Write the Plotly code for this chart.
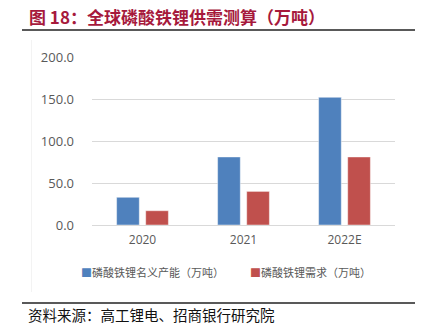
import plotly.graph_objects as go

categories = ["2020", "2021", "2022E"]
capacity = [33, 81, 152]
demand = [17, 40, 81]
series_names = ["磷酸铁锂名义产能（万吨）", "磷酸铁锂需求（万吨）"]
y_ticks = [0, 50, 100, 150, 200]
y_tick_labels = ["0.0", "50.0", "100.0", "150.0", "200.0"]
title_text = "图 18：全球磷酸铁锂供需测算（万吨）"
source_text = "资料来源：高工锂电、招商银行研究院"

BLUE = "#4F81BD"
RED = "#C0504D"

W, H = 423, 334
ML, MR, MT, MB = 92, 28, 57, 109
PW, PH = W - ML - MR, H - MT - MB

def px(x):
    return (x - ML) / PW

def py(y):
    return (H - MB - y) / PH

fig = go.Figure()
fig.add_trace(go.Bar(x=categories, y=capacity, name=series_names[0],
                     marker=dict(color=BLUE, line=dict(color="rgba(255,255,255,0.45)", width=1))))
fig.add_trace(go.Bar(x=categories, y=demand, name=series_names[1],
                     marker=dict(color=RED, line=dict(color="rgba(255,255,255,0.45)", width=1))))

fig.update_layout(
    width=W, height=H,
    margin=dict(l=ML, r=MR, t=MT, b=MB, pad=0),
    paper_bgcolor="white", plot_bgcolor="white",
    barmode="group", bargap=0.424, bargroupgap=0.22,
    showlegend=False,
    font=dict(family="Open Sans, sans-serif", color="#595959"),
    xaxis=dict(showgrid=False, showline=False, ticks="", tickfont=dict(size=12, color="#595959"),
               ticklabelstandoff=6),
    yaxis=dict(range=[0, 200], tickvals=y_ticks, ticktext=y_tick_labels,
               showgrid=True, gridcolor="#D9D9D9", gridwidth=1,
               zeroline=True, zerolinecolor="#D9D9D9", zerolinewidth=1,
               showline=False, ticks="", tickfont=dict(size=13, color="#595959"),
               ticklabelstandoff=17),
)

# header line, footer line, faint chart border
fig.add_shape(type="line", xref="paper", yref="paper", x0=px(22), x1=px(415), y0=py(30), y1=py(30),
              line=dict(color="#222222", width=1.5))
fig.add_shape(type="line", xref="paper", yref="paper", x0=px(22), x1=px(415), y0=py(303), y1=py(303),
              line=dict(color="#222222", width=1.5))
fig.add_shape(type="line", xref="paper", yref="paper", x0=px(31.5), x1=px(31.5), y0=py(40), y1=py(292),
              line=dict(color="#F3F3F3", width=1))

fig.add_annotation(text="<b>" + title_text + "</b>", xref="paper", yref="paper",
                   x=px(27), y=py(16), xanchor="left", yanchor="middle", showarrow=False,
                   font=dict(family="Noto Sans CJK SC", size=17, color="#A6193C"))
fig.add_annotation(text=source_text, xref="paper", yref="paper",
                   x=px(26), y=py(314), xanchor="left", yanchor="middle", showarrow=False,
                   font=dict(family="Noto Sans CJK SC", size=14.5, color="#111111"))

# legend drawn as text with coloured squares
legend_x = [79, 248]
for name, col, lx in zip(series_names, [BLUE, RED], legend_x):
    fig.add_annotation(text=f"<span style='color:{col}'>■</span>{name}", xref="paper", yref="paper",
                       x=px(lx), y=py(272), xanchor="left", yanchor="middle", showarrow=False,
                       font=dict(family="Noto Sans CJK SC", size=11, color="#595959"))

fig.write_html("out.html")
